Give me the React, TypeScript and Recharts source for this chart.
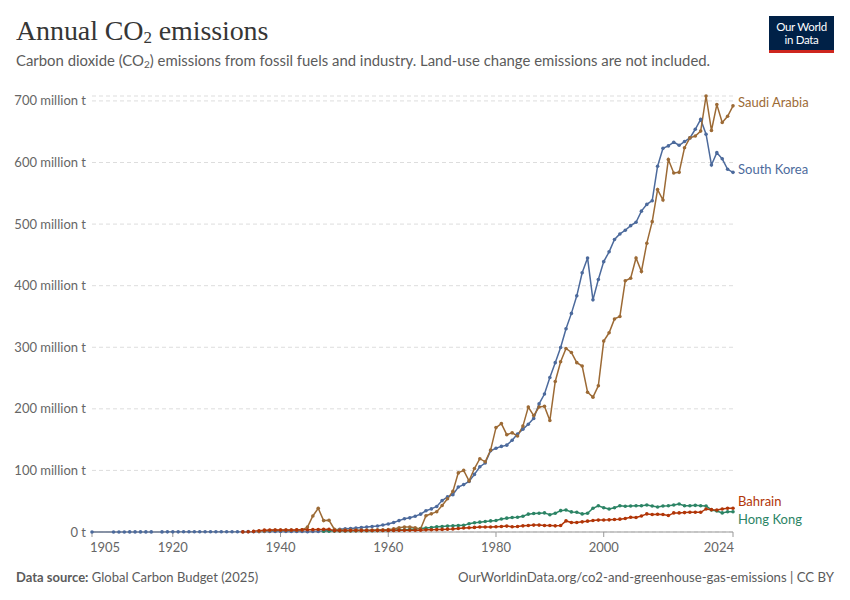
import React from "react";
import { LineChart, Line, XAxis, YAxis, CartesianGrid } from "recharts";

// Annual CO2 emissions, million tonnes
const FIRST_YEAR = 1905;
const LAST_YEAR = 2024;

// South Korea from 1905 (null = no data for that year)
const SOUTH_KOREA_START = 1905;
const SOUTH_KOREA = [
  0.05, null, null, null, 0.1, 0.1, 0.1, 0.15, 0.15, 0.15, 0.2, 0.2, null,
  0.2, 0.25, 0.25, 0.25, 0.3, 0.3, 0.3, 0.35, 0.35, 0.4, 0.4, 0.45, 0.45, 0.45, 0.5,
  0.5, 0.55, 0.6, 0.65, 0.7, 0.75, 0.8, 0.85, 0.9, 0.9, 0.9, 0.9, 0.5, 0.8, 1.0, 1.5, 2.0, 2.5,
  4.5, 5.2, 5.8, 6.4, 7.3, 8.0, 9.0, 9.8, 11.3, 12.9,
  15.5, 18.5, 21.5, 23.0, 25.5, 29.0, 34.5, 37.5, 41.5, 51.0,
  57.0, 60.5, 73.0, 77.0, 82.0, 93.5, 106.0, 112.0, 132.0, 136.0,
  139.0, 141.0, 149.0, 159.0, 167.0, 175.0, 184.5, 208.0, 224.0, 251.0,
  275.0, 299.5, 330.0, 355.0, 383.5, 421.0, 445.0, 377.0, 410.0, 439.0,
  455.0, 475.0, 484.0, 490.0, 497.5, 503.0, 521.0, 532.0, 538.0, 594.0,
  623.0, 627.0, 633.0, 628.0, 634.0, 640.0, 654.0, 670.0, 646.0, 596.0,
  616.0, 606.0, 589.0, 584.0,
];

// Saudi Arabia from 1936
const SAUDI_ARABIA_START = 1936;
const SAUDI_ARABIA = [
  1.0, 1.5, 2.5, 3.0, 3.0, 3.0, 3.0, 3.0, 3.5, 8.0, 26.0, 38.5, 18.5, 19.0, 4.5,
  3.5, 3.0, 3.0, 3.0, 3.0, 3.0, 3.0, 3.5, 3.5, 4.0,
  5.0, 7.0, 8.0, 8.0, 7.0, 5.0, 26.5, 29.5, 33.0, 43.0,
  54.0, 66.0, 96.0, 100.0, 83.0, 103.0, 119.0, 114.0, 133.0, 169.5,
  176.0, 158.0, 161.0, 156.0, 172.0, 203.0, 189.0, 203.0, 204.0, 181.0,
  244.5, 276.5, 298.0, 291.5, 275.0, 269.5, 227.0, 219.0, 237.5, 310.0,
  323.5, 346.0, 350.0, 408.0, 412.0, 445.0, 423.0, 469.0, 504.0, 556.0,
  539.0, 605.0, 583.0, 584.0, 624.0, 640.0, 643.0, 651.0, 708.0, 652.0,
  694.0, 665.0, 675.0, 692.0,
];

// Bahrain from 1933
const BAHRAIN_START = 1933;
const BAHRAIN = [
  0.2, 0.5, 1.0, 2.0, 3.0, 3.2, 3.3, 3.3, 3.3, 3.3, 3.4, 3.5, 3.7, 3.8, 4.0, 4.2, 4.5, 2.2,
  2.2, 2.2, 2.3, 2.3, 2.3, 2.4, 2.4, 2.5, 2.5, 2.6,
  2.6, 2.7, 2.7, 2.8, 2.9, 3.0, 3.5, 3.7, 3.9, 4.2,
  4.6, 5.0, 5.7, 6.4, 7.0, 7.5, 8.0, 8.0, 8.0, 8.5,
  9.0, 9.6, 8.5, 9.0, 10.0, 10.6, 11.2, 11.2, 10.6, 10.6,
  10.0, 10.6, 18.0, 15.4, 15.4, 16.5, 17.6, 18.6, 19.3, 19.5,
  19.7, 20.3, 20.9, 21.9, 24.0, 23.5, 26.0, 29.4, 28.3, 28.9,
  28.3, 26.7, 31.0, 31.0, 31.5, 32.0, 32.0, 32.0, 37.4, 36.3,
  35.8, 37.4, 38.5, 38.5,
];

// Hong Kong from 1948
const HONG_KONG_START = 1948;
const HONG_KONG = [
  1.2, 1.3, 1.5,
  1.6, 1.7, 1.8, 1.9, 2.0, 2.1, 2.2, 2.3, 2.4, 2.5,
  2.8, 3.2, 3.6, 4.2, 4.8, 5.5, 6.4, 7.4, 8.5, 9.0,
  9.6, 10.0, 10.6, 10.8, 13.3, 15.0, 16.0, 17.0, 18.0, 18.6,
  21.0, 22.5, 23.5, 24.0, 25.6, 29.0, 30.0, 30.5, 31.0, 28.0,
  30.5, 34.7, 35.8, 32.6, 32.0, 29.4, 30.5, 38.5, 42.7, 39.5,
  37.4, 39.5, 42.7, 41.7, 42.2, 42.7, 42.7, 43.8, 42.2, 40.6,
  42.2, 42.7, 43.8, 45.4, 42.7, 42.7, 43.3, 42.7, 42.2, 35.8,
  34.2, 31.0, 33.0, 33.0,
];

const X_TICKS = [1905, 1920, 1940, 1960, 1980, 2000, 2024];
const Y_TICKS = [0, 100, 200, 300, 400, 500, 600, 700];

const COLORS = {
  korea: "#4C6A9C",
  saudi: "#9C6A35",
  bahrain: "#B13507",
  hongKong: "#2C8465",
};

const FONT = "Lato, 'Noto Sans', sans-serif";

const pick = (arr: (number | null)[], start: number, year: number) => {
  const i = year - start;
  return i >= 0 && i < arr.length ? arr[i] : null;
};

const data: any[] = [];
for (let y = FIRST_YEAR; y <= LAST_YEAR; y++) {
  data.push({
    year: y,
    korea: pick(SOUTH_KOREA, SOUTH_KOREA_START, y),
    saudi: pick(SAUDI_ARABIA, SAUDI_ARABIA_START, y),
    bahrain: pick(BAHRAIN, BAHRAIN_START, y),
    hongKong: pick(HONG_KONG, HONG_KONG_START, y),
  });
}
const LAST = data.length - 1;

// name shown at the end of each line, nudged so the small series don't collide
const endLabel = (name: string, color: string, dy: number) => (props: any) => {
  if (props.index !== LAST) return null;
  return (
    <text x={props.x + 5} y={props.y + dy} dy="0.35em" fill={color} fontSize={13} fontFamily={FONT}>
      {name}
    </text>
  );
};

const XTick = (props: any) => {
  const { x, y, payload } = props;
  let anchor = "middle";
  let tx = x;
  if (payload.value === X_TICKS[0]) { anchor = "start"; tx = x - 2; }
  if (payload.value === X_TICKS[X_TICKS.length - 1]) { anchor = "end"; tx = x + 1; }
  return (
    <text x={tx} y={y + 4} dy="0.71em" textAnchor={anchor} fill="#666" fontSize={13} fontFamily={FONT}>
      {payload.value}
    </text>
  );
};

const YTick = (props: any) => {
  const { y, payload } = props;
  const label = payload.value === 0 ? "0 t" : `${payload.value} million t`;
  return (
    <text x={86} y={y} dy="0.35em" textAnchor="end" fill="#666" fontSize={13} fontFamily={FONT}>
      {label}
    </text>
  );
};

export default function App() {
  const dot = (c: string) => ({ r: 1.8, fill: c, stroke: c, strokeWidth: 0 });
  return (
    <div style={{ position: "absolute", left: 0, top: 0, width: 850, height: 600, background: "#fff", fontFamily: FONT }}>
      <div style={{ position: "absolute", left: 16, top: 15, fontFamily: "'Liberation Serif', serif", fontSize: 28, color: "#363636", whiteSpace: "nowrap", letterSpacing: -0.1 }}>
        Annual CO<sub style={{ fontSize: 17, verticalAlign: "-3px" }}>2</sub> emissions
      </div>
      <div style={{ position: "absolute", left: 16, top: 51, fontSize: 14.9, color: "#5b5b5b", whiteSpace: "nowrap" }}>
        Carbon dioxide (CO<sub style={{ fontSize: 10, verticalAlign: "-2px" }}>2</sub>) emissions from fossil fuels and industry. Land-use change emissions are not included.
      </div>
      <div style={{ position: "absolute", left: 769, top: 16, width: 65, height: 37, background: "#002147", borderBottom: "3px solid #CE261E", boxSizing: "border-box", color: "#fff", fontSize: 11.5, lineHeight: "13px", textAlign: "center", paddingTop: 4, letterSpacing: -0.3 }}>
        Our World<br />in Data
      </div>

      <div style={{ position: "absolute", left: 0, top: 0 }}>
        <LineChart width={850} height={600} data={data} margin={{ top: 96, right: 117, bottom: 0, left: 0 }}>
          <CartesianGrid vertical={false} stroke="#dddddd" strokeDasharray="4 3" />
          <XAxis
            dataKey="year"
            type="number"
            domain={[FIRST_YEAR, LAST_YEAR]}
            ticks={X_TICKS}
            interval={0}
            height={68}
            stroke="#999"
            tickSize={5}
            tick={<XTick />}
          />
          <YAxis
            type="number"
            domain={[0, 700]}
            ticks={Y_TICKS}
            width={92}
            axisLine={false}
            tickLine={false}
            tick={<YTick />}
          />
          <Line dataKey="korea" stroke={COLORS.korea} strokeWidth={1.5} dot={dot(COLORS.korea)} connectNulls isAnimationActive={false} label={endLabel("South Korea", COLORS.korea, -3)} />
          <Line dataKey="hongKong" stroke={COLORS.hongKong} strokeWidth={1.5} dot={dot(COLORS.hongKong)} isAnimationActive={false} label={endLabel("Hong Kong", COLORS.hongKong, 8)} />
          <Line dataKey="saudi" stroke={COLORS.saudi} strokeWidth={1.5} dot={dot(COLORS.saudi)} isAnimationActive={false} label={endLabel("Saudi Arabia", COLORS.saudi, -3)} />
          <Line dataKey="bahrain" stroke={COLORS.bahrain} strokeWidth={1.5} dot={dot(COLORS.bahrain)} isAnimationActive={false} label={endLabel("Bahrain", COLORS.bahrain, -7)} />
        </LineChart>
      </div>

      <div style={{ position: "absolute", left: 16, top: 569, fontSize: 13, color: "#5b5b5b", whiteSpace: "nowrap" }}>
        <b>Data source:</b> Global Carbon Budget (2025)
      </div>
      <div style={{ position: "absolute", right: 16, top: 569, fontSize: 13.2, color: "#5b5b5b", whiteSpace: "nowrap" }}>
        OurWorldinData.org/co2-and-greenhouse-gas-emissions | CC BY
      </div>
    </div>
  );
}
